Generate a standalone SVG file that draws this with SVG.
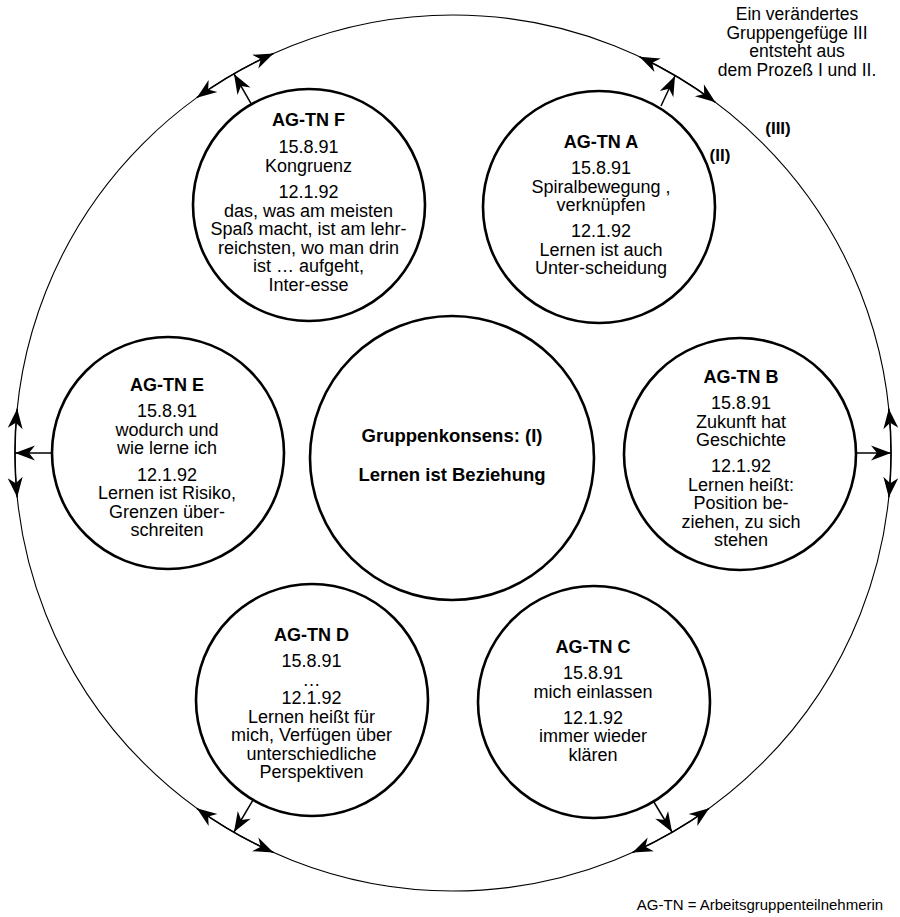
<svg xmlns="http://www.w3.org/2000/svg" width="900" height="917" viewBox="0 0 900 917">
<style>
  text { font-family: "Liberation Sans", Arial, Helvetica, sans-serif; font-size: 18px; fill: #000; text-anchor: middle; }
  .b { font-weight: bold; }
  .node { fill: none; stroke: #000; stroke-width: 2.6; }
  .outer { fill: none; stroke: #000; stroke-width: 1.1; }
  .arr { fill: none; stroke: #000; stroke-width: 1.5; }
  .dbl { marker-start: url(#ah); marker-end: url(#ah); }
  .one { marker-end: url(#ah); }
  text.note { font-size: 17.5px; }
  text.lbl { font-size: 17px; }
  text.ctr { font-size: 18.5px; }
  text.legend { font-size: 15px; }
</style>
<defs>
  <marker id="ah" markerUnits="userSpaceOnUse" viewBox="-22 -9 24 18" refX="0" refY="0" markerWidth="24" markerHeight="18" orient="auto-start-reverse">
    <path d="M0,0 L-20,-7.5 L-14,0 L-20,7.5 Z" fill="#000"/>
  </marker>
</defs>
<rect width="900" height="917" fill="#fff"/>

<g id="group-III">
  <circle class="outer" cx="453" cy="453" r="438"/>
  <text class="b lbl" x="778" y="134">(III)</text>
  <text class="note" x="797" y="20">Ein verändertes</text>
  <text class="note" x="797" y="38.5">Gruppengefüge III</text>
  <text class="note" x="797" y="57">entsteht aus</text>
  <text class="note" x="797" y="75.5">dem Prozeß I und II.</text>
</g>

<g id="connectors">
  <path class="arr dbl" d="M196.8,97.7 A438,438 0 0 1 273.5,53.5"/>
  <path class="arr dbl" d="M639.5,56.7 A438,438 0 0 1 715.4,102.3"/>
  <path class="arr dbl" d="M888.8,408.7 A438,438 0 0 1 888.8,497.3"/>
  <path class="arr dbl" d="M709.2,808.3 A438,438 0 0 1 632.5,852.5"/>
  <path class="arr dbl" d="M273.5,852.5 A438,438 0 0 1 196.8,808.3"/>
  <path class="arr dbl" d="M17.2,497.3 A438,438 0 0 1 17.2,408.7"/>
  <path class="arr one" d="M251.5,104.3 L234,74"/>
  <path class="arr one" d="M661,106 L675,76"/>
  <path class="arr one" d="M52,453 L15,453"/>
  <path class="arr one" d="M856,453 L891,453"/>
  <path class="arr one" d="M253.1,799.9 L234,832"/>
  <path class="arr one" d="M653.6,801.5 L672,832"/>
</g>

<g id="center">
  <circle class="node" cx="452" cy="458" r="142"/>
  <text class="b ctr" x="452" y="441.5">Gruppenkonsens: (I)</text>
  <text class="b ctr" x="452" y="480.5">Lernen ist Beziehung</text>
</g>

<g id="ag-tn-f">
  <circle class="node" cx="309" cy="205" r="116"/>
  <text class="b" x="308.5" y="126">AG-TN F</text>
  <text x="308.5" y="153">15.8.91</text>
  <text x="308.5" y="171.5">Kongruenz</text>
  <text x="308.5" y="198">12.1.92</text>
  <text x="308.5" y="216.5">das, was am meisten</text>
  <text x="308.5" y="235">Spaß macht, ist am lehr-</text>
  <text x="308.5" y="253.5">reichsten, wo man drin</text>
  <text x="308.5" y="272">ist … aufgeht,</text>
  <text x="308.5" y="290.5">Inter-esse</text>
</g>

<g id="ag-tn-a">
  <circle class="node" cx="599" cy="207" r="116"/>
  <text class="b" x="601" y="148">AG-TN A</text>
  <text x="601" y="174">15.8.91</text>
  <text x="601" y="192.5">Spiralbewegung ,</text>
  <text x="601" y="211">verknüpfen</text>
  <text x="601" y="237">12.1.92</text>
  <text x="601" y="255.5">Lernen ist auch</text>
  <text x="601" y="274">Unter-scheidung</text>
  <text class="b lbl" x="720" y="161">(II)</text>
</g>

<g id="ag-tn-b">
  <circle class="node" cx="740" cy="454" r="116"/>
  <text class="b" x="741" y="383">AG-TN B</text>
  <text x="741" y="409">15.8.91</text>
  <text x="741" y="427.5">Zukunft hat</text>
  <text x="741" y="446">Geschichte</text>
  <text x="741" y="472">12.1.92</text>
  <text x="741" y="490.5">Lernen heißt:</text>
  <text x="741" y="509">Position be-</text>
  <text x="741" y="527.5">ziehen, zu sich</text>
  <text x="741" y="546">stehen</text>
</g>

<g id="ag-tn-c">
  <circle class="node" cx="594" cy="702" r="116"/>
  <text class="b" x="593" y="653">AG-TN C</text>
  <text x="593" y="679">15.8.91</text>
  <text x="593" y="697.5">mich einlassen</text>
  <text x="593" y="723.5">12.1.92</text>
  <text x="593" y="742">immer wieder</text>
  <text x="593" y="760.5">klären</text>
</g>

<g id="ag-tn-d">
  <circle class="node" cx="312" cy="700" r="116"/>
  <text class="b" x="311.5" y="641">AG-TN D</text>
  <text x="311.5" y="667">15.8.91</text>
  <text x="311.5" y="685.5">…</text>
  <text x="311.5" y="704">12.1.92</text>
  <text x="311.5" y="722.5">Lernen heißt für</text>
  <text x="311.5" y="741">mich, Verfügen über</text>
  <text x="311.5" y="759.5">unterschiedliche</text>
  <text x="311.5" y="778">Perspektiven</text>
</g>

<g id="ag-tn-e">
  <circle class="node" cx="168" cy="453" r="116"/>
  <text class="b" x="167" y="391">AG-TN E</text>
  <text x="167" y="417">15.8.91</text>
  <text x="167" y="435.5">wodurch und</text>
  <text x="167" y="454">wie lerne ich</text>
  <text x="167" y="480.5">12.1.92</text>
  <text x="167" y="499">Lernen ist Risiko,</text>
  <text x="167" y="517.5">Grenzen über-</text>
  <text x="167" y="536">schreiten</text>
</g>

<g id="legend">
  <text class="legend" x="760" y="910">AG-TN = Arbeitsgruppenteilnehmerin</text>
</g>
</svg>
